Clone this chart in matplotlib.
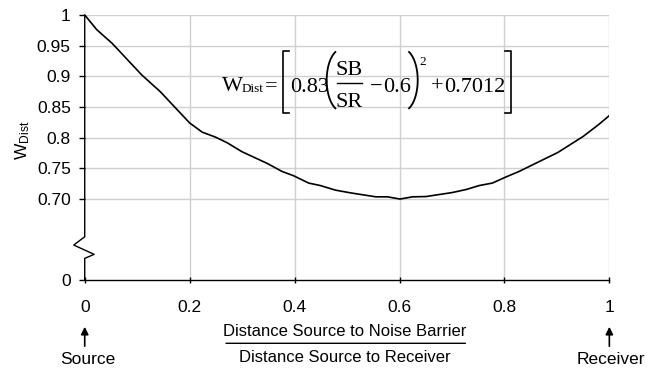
import matplotlib
matplotlib.use('Agg')
import numpy as np
import matplotlib.pyplot as plt
from matplotlib.lines import Line2D

# values
ratio = [0, 0.023, 0.052, 0.109, 0.144, 0.2, 0.224, 0.249, 0.271, 0.30, 0.348,
         0.376, 0.398, 0.427, 0.449, 0.478, 0.507, 0.555, 0.577, 0.601, 0.625,
         0.65, 0.70, 0.727, 0.752, 0.777, 0.803, 0.828, 0.902, 0.950, 0.979, 1.0]
w_dist = [1.0, 0.976, 0.954, 0.902, 0.875, 0.824, 0.809, 0.801, 0.792, 0.777, 0.758,
          0.745, 0.738, 0.726, 0.722, 0.7145, 0.710, 0.7036, 0.7036, 0.700, 0.7036,
          0.704, 0.7105, 0.7155, 0.722, 0.726, 0.736, 0.745, 0.776, 0.802, 0.821, 0.836]

x_ticks = [0, 0.2, 0.4, 0.6, 0.8, 1]
x_labels = ['0', '0.2', '0.4', '0.6', '0.8', '1']
y_grid = [0.70, 0.75, 0.80, 0.85, 0.90, 0.95, 1.0]
y_labels = ['0.70', '0.75', '0.8', '0.85', '0.9', '0.95', '1']
y_zero = 0.568  # where the broken axis puts "0"

plt.rcParams['font.family'] = ['Liberation Sans', 'DejaVu Sans']
plt.rcParams['mathtext.fontset'] = 'custom'
plt.rcParams['mathtext.rm'] = 'Liberation Sans'
plt.rcParams['mathtext.it'] = 'Liberation Sans:italic'

W, H = 664, 373
fig = plt.figure(figsize=(W / 100, H / 100), dpi=100)
ax = fig.add_axes([0.1276, 0.2493, 0.7901, 0.7105])

for y in y_grid:
    ax.axhline(y, color='#d0d0d0', lw=1, zorder=0)
for x in x_ticks[1:]:
    ax.axvline(x, color='#d0d0d0', lw=1, zorder=0)

ax.plot(ratio, w_dist, color='black', lw=1.2, zorder=3)

ax.set_xlim(0, 1)
ax.set_ylim(y_zero, 1.0)
for s in ['top', 'right', 'left']:
    ax.spines[s].set_visible(False)
ax.spines['bottom'].set_linewidth(1)

# left axis with zigzag break
ax.plot([0, 0, -0.021, 0.018, 0, 0], [1.0, 0.6385, 0.625, 0.6098, 0.6033, y_zero],
        transform=ax.get_yaxis_transform(), clip_on=False, color='black', lw=1)

ax.set_xticks(x_ticks)
ax.set_xticklabels(x_labels)
ax.set_yticks([y_zero] + y_grid)
ax.set_yticklabels(['0'] + y_labels)
ax.tick_params(axis='x', direction='inout', length=5, width=1, pad=12, labelsize=12.5)
ax.tick_params(axis='y', direction='out', length=4, width=1, pad=6, labelsize=12.5)

ax.text(-0.118, 0.795, r'W$_{\mathrm{Dist}}$', transform=ax.get_yaxis_transform(),
        rotation=90, ha='center', va='center', fontsize=12.5)


# equation, laid out piece by piece in pixel positions (y from top)
def px(x, y):
    return x / W, (H - y) / H


def eq_text(s, x, y, size=16, ha='left'):
    fig.text(*px(x, y), s, ha=ha, va='baseline', fontsize=size,
             family='Liberation Serif')


def eq_line(xs, ys, lw=1.2):
    fig.add_artist(Line2D([x / W for x in xs], [(H - y) / H for y in ys],
                          transform=fig.transFigure, color='black', lw=lw))


def paren(x_edge, top, bot, side):
    # thin tall parenthesis drawn as part of an ellipse
    a = 15
    b = (bot - top) / 2 / np.sin(np.radians(65))
    cy = (top + bot) / 2
    t = np.radians(np.linspace(115, 245, 40))
    if side == 'left':
        cx = x_edge + a
        xs = cx + a * np.cos(t)
    else:
        cx = x_edge - a
        xs = cx - a * np.cos(t)
    ys = cy - b * np.sin(t)
    eq_line(xs, ys, lw=1.3)


eq_text('W', 221.5, 91)
eq_text('Dist', 241.5, 92.5, size=9.5)
eq_text('=', 271, 91.5, ha='center')
eq_line([288.5, 283.3, 283.3, 288.5], [50.5, 50.5, 113.3, 113.3])
eq_text('0.83', 290, 91.5)
paren(326.7, 52, 108.3, 'left')
eq_text('SB', 349, 75, ha='center')
eq_line([337, 362], [83.3, 83.3], lw=1)
eq_text('SR', 349, 106.7, ha='center')
eq_text('\u2212', 376, 92, ha='center')
eq_text('0.6', 383, 91.5)
paren(417.7, 52, 108.3, 'right')
eq_text('2', 419, 65, size=9.5)
eq_text('+', 437.5, 92, ha='center')
eq_text('0.7012', 444.5, 91.5)
eq_line([504.5, 511, 511, 504.5], [50.5, 50.5, 113.3, 113.3])

# fraction x label
ax.annotate('Distance Source to Noise Barrier', xy=(0.496, 42), xycoords=('data', 'figure pixels'),
            ha='center', va='center', fontsize=12)
ax.annotate('Distance Source to Receiver', xy=(0.496, 16), xycoords=('data', 'figure pixels'),
            ha='center', va='center', fontsize=12)
ax.annotate('', xy=(0.264, 29.7), xytext=(0.731, 29.7), xycoords=('data', 'figure pixels'),
            textcoords=('data', 'figure pixels'),
            arrowprops=dict(arrowstyle='-', color='black', lw=1))

# source / receiver arrows
for xv, name, tx in [(0, 'Source', 0.006), (1, 'Receiver', 1.003)]:
    ax.annotate('', xy=(xv, 49), xytext=(xv, 24), xycoords=('data', 'figure pixels'),
                textcoords=('data', 'figure pixels'),
                arrowprops=dict(arrowstyle='-|>', color='black', lw=1.2, mutation_scale=11))
    ax.annotate(name, xy=(tx, 13), xycoords=('data', 'figure pixels'),
                ha='center', va='center', fontsize=12.5)

fig.savefig('out.png', dpi=100)
